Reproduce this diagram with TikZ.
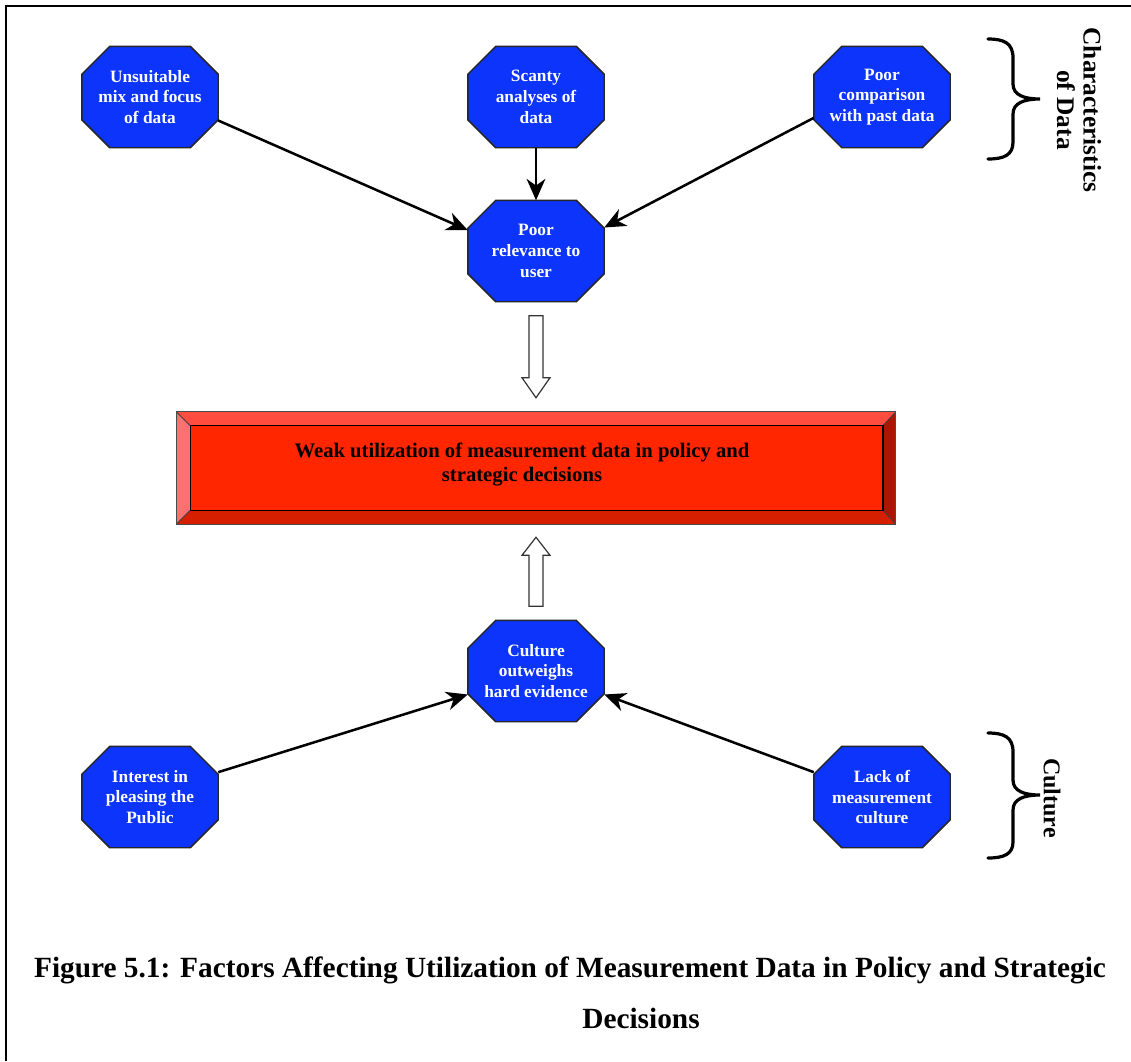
\documentclass[tikz,border=0pt]{standalone}
\usepackage{fontspec}
\setmainfont{Liberation Serif}
\usetikzlibrary{arrows.meta,calc}
\definecolor{octblue}{RGB}{12,52,250}
\definecolor{redmain}{RGB}{255,38,0}
\definecolor{bevtop}{RGB}{255,78,64}
\definecolor{bevleft}{RGB}{255,112,112}
\definecolor{bevbot}{RGB}{214,30,0}
\definecolor{bevright}{RGB}{168,24,0}

% octagon with fixed 21pt corner cuts on the rectangle's outline
\makeatletter
\pgfdeclareshape{octbox}{
  \inheritsavedanchors[from=rectangle]
  \inheritanchorborder[from=rectangle]
  \inheritanchor[from=rectangle]{center}
  \inheritanchor[from=rectangle]{north}
  \inheritanchor[from=rectangle]{south}
  \inheritanchor[from=rectangle]{east}
  \inheritanchor[from=rectangle]{west}
  \backgroundpath{%
    \southwest \pgf@xa=\pgf@x \pgf@ya=\pgf@y
    \northeast \pgf@xb=\pgf@x \pgf@yb=\pgf@y
    \edef\oct@l{\the\pgf@xa}\edef\oct@b{\the\pgf@ya}%
    \edef\oct@r{\the\pgf@xb}\edef\oct@t{\the\pgf@yb}%
    \advance\pgf@xa by 21pt \advance\pgf@ya by 21pt
    \advance\pgf@xb by -21pt \advance\pgf@yb by -21pt
    \edef\oct@li{\the\pgf@xa}\edef\oct@bi{\the\pgf@ya}%
    \edef\oct@ri{\the\pgf@xb}\edef\oct@ti{\the\pgf@yb}%
    \pgfpathmoveto{\pgfqpoint{\oct@li}{\oct@b}}%
    \pgfpathlineto{\pgfqpoint{\oct@ri}{\oct@b}}%
    \pgfpathlineto{\pgfqpoint{\oct@r}{\oct@bi}}%
    \pgfpathlineto{\pgfqpoint{\oct@r}{\oct@ti}}%
    \pgfpathlineto{\pgfqpoint{\oct@ri}{\oct@t}}%
    \pgfpathlineto{\pgfqpoint{\oct@li}{\oct@t}}%
    \pgfpathlineto{\pgfqpoint{\oct@l}{\oct@ti}}%
    \pgfpathlineto{\pgfqpoint{\oct@l}{\oct@bi}}%
    \pgfpathclose
  }
}
\makeatother

\begin{document}
\begin{tikzpicture}[x=0.75pt,y=-0.75pt,
  octo/.style={shape=octbox, minimum width=101.25pt, minimum height=75pt,
    inner sep=0pt, draw=black!85, line width=1.1pt, fill=octblue, text=white,
    font=\bfseries\fontsize{13}{15.5}\selectfont, align=center},
  link/.style={line width=1.9pt, -{Stealth[length=16pt,width=14pt,inset=5pt]}},
  hollow/.style={draw=black!80, line width=0.9pt, fill=white},
  bracestroke/.style={line width=2.4pt, line cap=round},
  sidelabel/.style={rotate=-90, align=center, font=\bfseries\fontsize{19}{20}\selectfont},
  captiontext/.style={font=\bfseries\fontsize{22}{26}\selectfont}]
\useasboundingbox (0,0) rectangle (1131,1061);

% page frame
\draw[line width=2.2pt] (6,1061) -- (6,6) -- (1131,6);

% factor nodes
\node[octo] (tl)  at (150,97)  {Unsuitable\\mix and focus\\of data};
\node[octo] (sc)  at (536,97)  {Scanty\\analyses of\\data};
\node[octo] (tr)  at (882,97)  {Poor\\comparison\\with past data};
\node[octo] (rel) at (536,251) {Poor\\relevance to\\user};
\node[octo] (cul) at (536,671) {Culture\\outweighs\\hard evidence};
\node[octo] (ip)  at (150,797) {Interest in\\pleasing the\\Public};
\node[octo] (lm)  at (882,797) {Lack of\\measurement\\culture};

% bevelled outcome box
\node[minimum width=539.25pt, minimum height=84pt, inner sep=0pt] (weak) at (536,468) {};
\coordinate (iNW) at ($(weak.north west)+(14,14)$);
\coordinate (iNE) at ($(weak.north east)+(-13,14)$);
\coordinate (iSE) at ($(weak.south east)+(-13,-14)$);
\coordinate (iSW) at ($(weak.south west)+(14,-14)$);
\fill[bevtop]   (weak.north west) -- (weak.north east) -- (iNE) -- (iNW) -- cycle;
\fill[bevleft]  (weak.north west) -- (iNW) -- (iSW) -- (weak.south west) -- cycle;
\fill[bevbot]   (weak.south west) -- (iSW) -- (iSE) -- (weak.south east) -- cycle;
\fill[bevright] (weak.north east) -- (weak.south east) -- (iSE) -- (iNE) -- cycle;
\fill[redmain] (iNW) rectangle (iSE);
\draw[black!75, line width=0.6pt] (weak.north west) -- (iNW) (weak.north east) -- (iNE)
  (weak.south east) -- (iSE) (weak.south west) -- (iSW);
\draw[black, line width=1.1pt] (iNW) rectangle (iSE);
\draw[black!70, line width=1pt] (weak.north west) rectangle (weak.south east);
\node[font=\bfseries\fontsize{15.5}{18}\selectfont, align=center] (weaktext)
  at ($(weak.center)+(-14,-4)$)
  {Weak utilization of measurement data in policy and\\strategic decisions};

% connectors
\draw[link] (tl.-19) -- (rel.163);
\draw[link] (sc.south) -- (rel.north);
\draw[link] (tr.-163) -- (rel.19);
\draw[link] (ip.20) -- (cul.-161);
\draw[link] (lm.160) -- (cul.-19);

% hollow block arrows into the outcome box
\coordinate (dT) at ($(rel.south)+(0,14)$);
\coordinate (dP) at ($(weak.north)+(0,-14)$);
\draw[hollow] ($(dT)+(-7,0)$) -- ($(dP)+(-7,-20)$) -- ($(dP)+(-14,-20)$) -- (dP)
  -- ($(dP)+(14,-20)$) -- ($(dP)+(7,-20)$) -- ($(dT)+(7,0)$) -- cycle;
\coordinate (uB) at ($(cul.north)+(0,-14)$);
\coordinate (uP) at ($(weak.south)+(0,13)$);
\draw[hollow] ($(uB)+(-7,0)$) -- ($(uP)+(-7,18)$) -- ($(uP)+(-14,18)$) -- (uP)
  -- ($(uP)+(14,18)$) -- ($(uP)+(7,18)$) -- ($(uB)+(7,0)$) -- cycle;

% group braces
\draw[bracestroke] (988,39) .. controls (1004,39) and (1013,43) .. (1013,58)
  -- (1013,84) .. controls (1013,95) and (1024,99) .. (1040,99)
  .. controls (1024,99) and (1013,103) .. (1013,114)
  -- (1013,142) .. controls (1013,155) and (1004,159) .. (988,159);
\node[sidelabel] (chars) at (1079,110) {Characteristics\\of Data};

\draw[bracestroke] (988,733) .. controls (1004,733) and (1013,737) .. (1013,752)
  -- (1013,780) .. controls (1013,791) and (1024,795) .. (1040,795)
  .. controls (1024,795) and (1013,799) .. (1013,810)
  -- (1013,842) .. controls (1013,854) and (1004,858) .. (988,858);
\node[sidelabel, font=\bfseries\fontsize{18}{20}\selectfont] (cult) at (1052,798) {Culture};

% caption
\node[captiontext] (cap1) at (570,970)
  {Figure 5.1: Factors Affecting Utilization of Measurement Data in Policy and Strategic};
\node[captiontext] (cap2) at (641,1018) {Decisions};
\end{tikzpicture}
\end{document}
